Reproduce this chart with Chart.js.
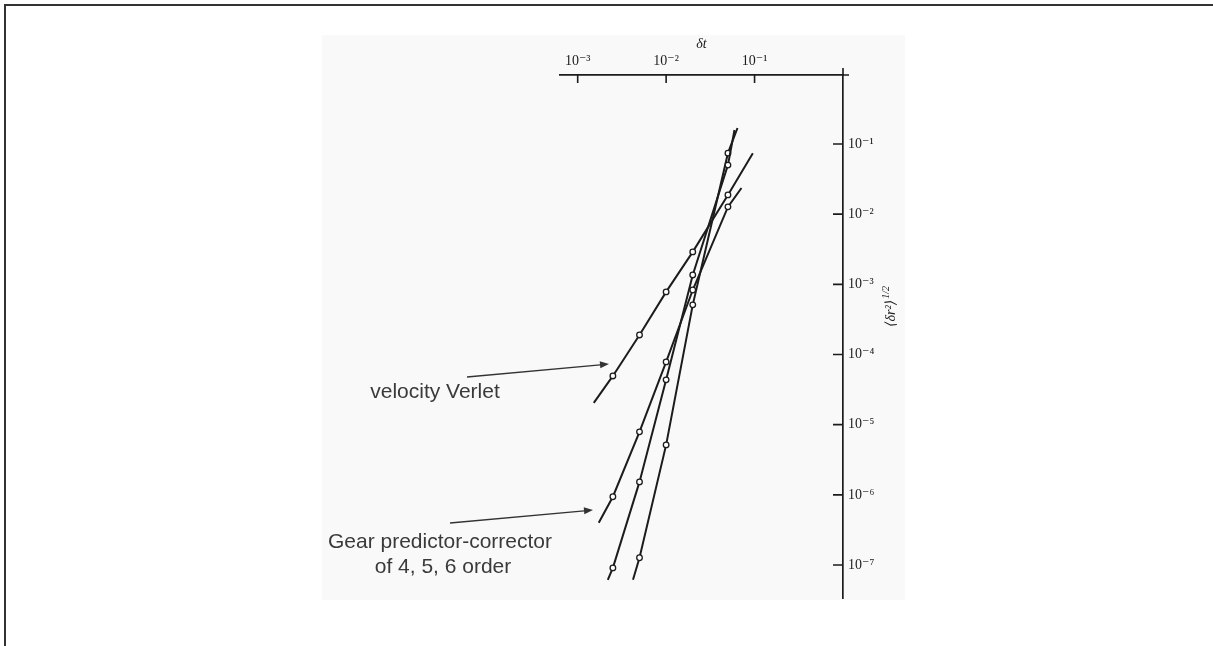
<!DOCTYPE html>
<html>
<head>
<meta charset="utf-8">
<title>RMS deviation vs time step</title>
<script src="https://cdn.jsdelivr.net/npm/chart.js@4.4.1/dist/chart.umd.min.js"></script>
<style>
  html, body { margin: 0; padding: 0; background: #fff; }
  #wrap { position: relative; width: 1213px; height: 646px; }
</style>
</head>
<body>
<div id="wrap"><canvas id="rmsChart" width="1213" height="646"></canvas></div>
<script>
// time steps the runs were done at
const stepSizes = [0.0025, 0.005, 0.01, 0.02, 0.05];

// rms deviation, one list per integrator (null = no point)
const vvValues    = [4.95e-5, 1.9e-4, 7.8e-4, 2.9e-3, 1.88e-2];
const gear4Values = [9.4e-7, 7.9e-6, 7.85e-5, 8.3e-4, 1.27e-2];
const gear5Values = [9.1e-8, 1.53e-6, 4.35e-5, 1.36e-3, 5.0e-2];
const gear6Values = [null, 1.27e-7, 5.15e-6, 5.1e-4, 7.4e-2];

// where each straight line starts and stops, as [dt, rms]
const vvEnds    = [[0.00152, 2.05e-5], [0.0956, 7.4e-2]];
const gear4Ends = [[0.00173, 3.99e-7], [0.0711, 2.36e-2]];
const gear5Ends = [[0.00219, 6.15e-8], [0.0593, 0.158]];
const gear6Ends = [[0.00422, 6.15e-8], [0.0641, 0.169]];

// tick values and their labels
const xTicks = [1e-3, 1e-2, 1e-1];
const xTickLabels = ['10\u207B\u00B3', '10\u207B\u00B2', '10\u207B\u00B9'];
const yTicks = [1e-1, 1e-2, 1e-3, 1e-4, 1e-5, 1e-6, 1e-7];
const yTickLabels = ['10\u207B\u00B9', '10\u207B\u00B2', '10\u207B\u00B3', '10\u207B\u2074',
                     '10\u207B\u2075', '10\u207B\u2076', '10\u207B\u2077'];

const ink = '#1c1c1c';
const serif = '"Liberation Serif", "DejaVu Serif", serif';

//turn an ends pair and a value list into points for one line
function buildPoints(ends, values){
  let pts = [{x: ends[0][0], y: ends[0][1], end: true}];
  for(let i = 0; i < stepSizes.length; i++){
    if(values[i] !== null){
      pts.push({x: stepSizes[i], y: values[i]});
    }
  }
  pts.push({x: ends[1][0], y: ends[1][1], end: true});
  return pts;
}

//find the label that belongs to a tick value
function tickLabel(value, ticks, labels){
  for(let i = 0; i < ticks.length; i++){
    if(Math.abs(Math.log10(value) - Math.log10(ticks[i])) < 1e-6) return labels[i];
  }
  return '';
}

function lineSet(label, points){
  return {
    label: label,
    data: points,
    showLine: true,
    borderColor: ink,
    borderWidth: 2,
    tension: 0,
    fill: false,
    pointStyle: 'circle',
    pointRadius: c => (c.raw && c.raw.end) ? 0 : 2.8,
    pointBackgroundColor: '#fff',
    pointBorderColor: ink,
    pointBorderWidth: 1.3
  };
}

//page frame and the pale scanned area behind the plot
const framePlugin = {
  id: 'frame',
  beforeDraw(chart){
    const ctx = chart.ctx;
    ctx.save();
    ctx.fillStyle = '#fff';
    ctx.fillRect(0, 0, chart.width, chart.height);
    ctx.fillStyle = '#f9f9f9';
    ctx.fillRect(322, 35, 583, 565);
    ctx.strokeStyle = '#333';
    ctx.lineWidth = 2;
    ctx.beginPath();
    ctx.moveTo(5, chart.height);
    ctx.lineTo(5, 5);
    ctx.lineTo(chart.width, 5);
    ctx.stroke();
    ctx.restore();
  }
};

//inward tick marks, y title and the two labelled arrows
const notesPlugin = {
  id: 'notes',
  afterDraw(chart){
    const ctx = chart.ctx;
    const xs = chart.scales.x, ys = chart.scales.y;
    const area = chart.chartArea;
    ctx.save();
    ctx.strokeStyle = ink;
    ctx.lineWidth = 1.6;
    ctx.beginPath();
    xTicks.forEach(v => {
      const px = xs.getPixelForValue(v);
      ctx.moveTo(px, area.top);
      ctx.lineTo(px, area.top + 8);
    });
    yTicks.forEach(v => {
      const py = ys.getPixelForValue(v);
      ctx.moveTo(area.right - 10, py);
      ctx.lineTo(area.right, py);
    });
    // little overhang where the two axes meet
    ctx.moveTo(area.right, area.top);
    ctx.lineTo(area.right + 6, area.top);
    ctx.moveTo(area.right, area.top);
    ctx.lineTo(area.right, area.top - 7);
    ctx.stroke();

    // y axis title, reads bottom to top
    ctx.save();
    ctx.translate(891, 307);
    ctx.rotate(-Math.PI / 2);
    ctx.fillStyle = ink;
    ctx.textBaseline = 'middle';
    ctx.font = 'italic 14px ' + serif;
    const main = '\u27E8\u03B4r\u00B2\u27E9';
    const w1 = ctx.measureText(main).width;
    ctx.font = 'italic 10px ' + serif;
    const w2 = ctx.measureText('1/2').width;
    const start = -(w1 + w2) / 2;
    ctx.font = 'italic 14px ' + serif;
    ctx.textAlign = 'left';
    ctx.fillText(main, start, 0);
    ctx.font = 'italic 10px ' + serif;
    ctx.fillText('1/2', start + w1 + 1, -5);
    ctx.restore();

    // arrows
    ctx.strokeStyle = '#333';
    ctx.fillStyle = '#333';
    ctx.lineWidth = 1.3;
    [[467, 377, 609, 364], [450, 523, 593, 510]].forEach(a => {
      const ang = Math.atan2(a[3] - a[1], a[2] - a[0]);
      ctx.beginPath();
      ctx.moveTo(a[0], a[1]);
      ctx.lineTo(a[2] - 6 * Math.cos(ang), a[3] - 6 * Math.sin(ang));
      ctx.stroke();
      ctx.beginPath();
      ctx.moveTo(a[2], a[3]);
      ctx.lineTo(a[2] - 9 * Math.cos(ang) + 3.5 * Math.sin(ang), a[3] - 9 * Math.sin(ang) - 3.5 * Math.cos(ang));
      ctx.lineTo(a[2] - 9 * Math.cos(ang) - 3.5 * Math.sin(ang), a[3] - 9 * Math.sin(ang) + 3.5 * Math.cos(ang));
      ctx.closePath();
      ctx.fill();
    });

    // labels
    ctx.fillStyle = '#3a3a3a';
    ctx.font = '21px "Liberation Sans", Arial, sans-serif';
    ctx.textAlign = 'center';
    ctx.textBaseline = 'middle';
    ctx.fillText('velocity Verlet', 435, 392);
    ctx.fillText('Gear predictor-corrector', 440, 542);
    ctx.fillText('of 4, 5, 6 order', 443, 567);
    ctx.restore();
  }
};

let elChart = document.getElementById('rmsChart').getContext('2d');

let rmsChart = new Chart(elChart, {
  type: 'scatter',
  data: {
    datasets: [
      lineSet('velocity Verlet', buildPoints(vvEnds, vvValues)),
      lineSet('Gear 4', buildPoints(gear4Ends, gear4Values)),
      lineSet('Gear 5', buildPoints(gear5Ends, gear5Values)),
      lineSet('Gear 6', buildPoints(gear6Ends, gear6Values))
    ]
  },
  options: {
    responsive: false,
    animation: false,
    layout: { padding: { left: 560, right: 0, top: 0, bottom: 48 } },
    plugins: {
      legend: { display: false },
      tooltip: { enabled: false }
    },
    scales: {
      x: {
        type: 'logarithmic',
        position: 'top',
        bounds: 'data',
        min: Math.pow(10, -3.2),
        max: 1,
        afterFit: s => { s.height = 75; },
        afterBuildTicks: s => { s.ticks = xTicks.map(v => ({ value: v })); },
        ticks: {
          autoSkip: false,
          maxRotation: 0,
          padding: 5,
          color: ink,
          font: { family: serif, size: 14 },
          callback: v => tickLabel(v, xTicks, xTickLabels)
        },
        grid: { display: false, drawTicks: false },
        border: { display: true, color: ink, width: 1.7 },
        title: {
          display: true,
          text: '\u03B4t',
          color: ink,
          font: { family: serif, size: 14, style: 'italic' },
          padding: { top: 36, bottom: 0 }
        }
      },
      y: {
        type: 'logarithmic',
        position: 'right',
        bounds: 'data',
        min: Math.pow(10, -7.47),
        max: Math.pow(10, -0.017),
        afterFit: s => { s.width = 370; },
        afterBuildTicks: s => { s.ticks = yTicks.map(v => ({ value: v })); },
        ticks: {
          autoSkip: false,
          padding: 5,
          color: ink,
          font: { family: serif, size: 14 },
          callback: v => tickLabel(v, yTicks, yTickLabels)
        },
        grid: { display: false, drawTicks: false },
        border: { display: true, color: ink, width: 1.7 }
      }
    }
  },
  plugins: [framePlugin, notesPlugin]
});
</script>
</body>
</html>
